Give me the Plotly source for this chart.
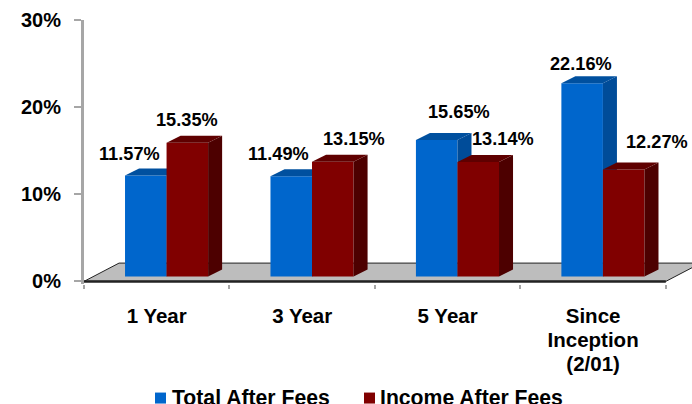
import plotly.graph_objects as go

# ---- data ----
categories = [["1 Year"], ["3 Year"], ["5 Year"], ["Since", "Inception", "(2/01)"]]
total_after_fees = [11.57, 11.49, 15.65, 22.16]
income_after_fees = [15.35, 13.15, 13.14, 12.27]
series_names = ["Total After Fees", "Income After Fees"]
y_ticks = [0, 10, 20, 30]
y_tick_labels = ["0%", "10%", "20%", "30%"]

# ---- style / geometry ----
W, H = 692, 404
L, T, BOT = 84, 20, 120.4
FONT = "Liberation Sans, Arial, sans-serif"
BLUE, BLUE_SIDE, BLUE_TOP = "#0066cc", "#004c99", "#00509f"
RED, RED_SIDE, RED_TOP = "#800000", "#4d0000", "#5f0000"
AXIS_GREY = "#a6a6a6"
BAR_W = 0.2856
BLUE_OFF, RED_OFF = -0.218, 0.0676
BASE = 0.575
DX, DY = 0.0964, 0.8
FLOOR_DX, FLOOR_DY = 0.241, 2.1
X_RANGE = [-0.5, 3.68]
Y_RANGE = [-0.3, 30]

xs = list(range(len(categories)))
tick_text = ["<br>".join(f'<span style="font-size:20.5px">{p}</span>' for p in c) for c in categories]
fig = go.Figure()


def add_series(vals, name, color, side, top, off, xa, ya):
    fig.add_bar(x=xs, y=vals, base=BASE, width=BAR_W, offset=off, name=name,
                marker=dict(color=color, line=dict(width=0)),
                xaxis=xa, yaxis=ya, hoverinfo="name+y", showlegend=False)
    for x, v in zip(xs, vals):
        x0, x1 = x + off, x + off + BAR_W
        t = v + BASE
        fig.add_scatter(x=[x1, x1 + DX, x1 + DX, x1, x1], y=[BASE, BASE + DY, t + DY, t, BASE],
                        fill="toself", fillcolor=side, mode="lines", line=dict(width=0, color=side),
                        showlegend=False, hoverinfo="skip", xaxis=xa, yaxis=ya)
        fig.add_scatter(x=[x0, x0 + DX, x1 + DX, x1, x0], y=[t, t + DY, t + DY, t, t],
                        fill="toself", fillcolor=top, mode="lines", line=dict(width=0, color=top),
                        showlegend=False, hoverinfo="skip", xaxis=xa, yaxis=ya)


add_series(total_after_fees, series_names[0], BLUE, BLUE_SIDE, BLUE_TOP, BLUE_OFF, "x", "y")
add_series(income_after_fees, series_names[1], RED, RED_SIDE, RED_TOP, RED_OFF, "x2", "y2")

# floor of the 3-D plot and its front edge
fig.add_shape(type="path", xref="x", yref="y", layer="below",
              path=f"M -0.5 0 L {-0.5 + FLOOR_DX} {FLOOR_DY} L {3.5 + FLOOR_DX} {FLOOR_DY} L 3.5 0 Z",
              fillcolor="#bdbdbd", line=dict(color="#222222", width=1))
fig.add_shape(type="line", xref="x", yref="y", layer="below", x0=-0.5, x1=3.5, y0=0, y1=0,
              line=dict(color="#222222", width=2.5))

# data labels: (dx, dy) in pixels from the bar's top-centre
blue_shift = [(-16, 22), (-13, 22), (22, 28), (-1, 19)]
red_shift = [(0, 23), (21, 23), (25, 23), (33, 27)]
for vals, off, shifts in ((total_after_fees, BLUE_OFF, blue_shift), (income_after_fees, RED_OFF, red_shift)):
    for x, v, (sx, sy) in zip(xs, vals, shifts):
        fig.add_annotation(x=x + off + BAR_W / 2, y=v + BASE, xref="x", yref="y", text=f"{v:.2f}%",
                           showarrow=False, xshift=sx, yshift=sy, xanchor="center", yanchor="middle",
                           font=dict(family=FONT, size=18.2, color="#000000", weight="bold"))

# legend keys and labels, placed like the original's tight legend
legend_items = [(series_names[0], BLUE, 155, 171), (series_names[1], RED, 364, 379)]
for name, color, kx, tx in legend_items:
    fig.add_shape(type="rect", xref="paper", yref="paper", xsizemode="pixel", ysizemode="pixel",
                  xanchor=(kx - L) / (W - L), yanchor=(H - BOT - 392) / (H - BOT - T),
                  x0=0, x1=11, y0=0, y1=-11, fillcolor=color, line=dict(width=0))
    fig.add_annotation(xref="paper", yref="paper", x=(tx - L) / (W - L), y=(H - BOT - 397) / (H - BOT - T),
                       text=name, showarrow=False, xanchor="left", yanchor="middle", borderpad=0,
                       font=dict(family=FONT, size=21.2, color="#000000", weight="bold"))

fig.update_layout(
    width=W, height=H, autosize=False, showlegend=False,
    margin=dict(l=L, r=0, t=T, b=BOT, pad=0, autoexpand=False),
    paper_bgcolor="white", plot_bgcolor="white",
    barmode="overlay",
    font=dict(family=FONT, color="#000000"),
    xaxis=dict(range=X_RANGE, tickmode="array", tickvals=xs, ticktext=tick_text,
               showgrid=False, zeroline=False, showline=False, ticks="", ticklabelstandoff=19,
               tickfont=dict(family=FONT, size=18.5, color="#000000", weight="bold"),
               minor=dict(tickmode="array", tickvals=[-0.5, 0.5, 1.5, 2.5, 3.5], ticks="outside",
                          ticklen=4, tickwidth=1.5, tickcolor=AXIS_GREY, showgrid=False)),
    yaxis=dict(range=Y_RANGE, tickmode="array", tickvals=y_ticks, ticktext=y_tick_labels,
               showgrid=False, zeroline=False, showline=True, linecolor=AXIS_GREY, linewidth=3,
               ticks="outside", ticklen=7, tickwidth=2, tickcolor=AXIS_GREY, ticklabelstandoff=9,
               tickfont=dict(family=FONT, size=20, color="#000000", weight="bold")),
    xaxis2=dict(range=X_RANGE, overlaying="x", visible=False),
    yaxis2=dict(range=Y_RANGE, overlaying="y", visible=False),
)

fig.write_html("out.html", config=dict(displayModeBar=False),
               post_script="document.body.style.margin='0';")
